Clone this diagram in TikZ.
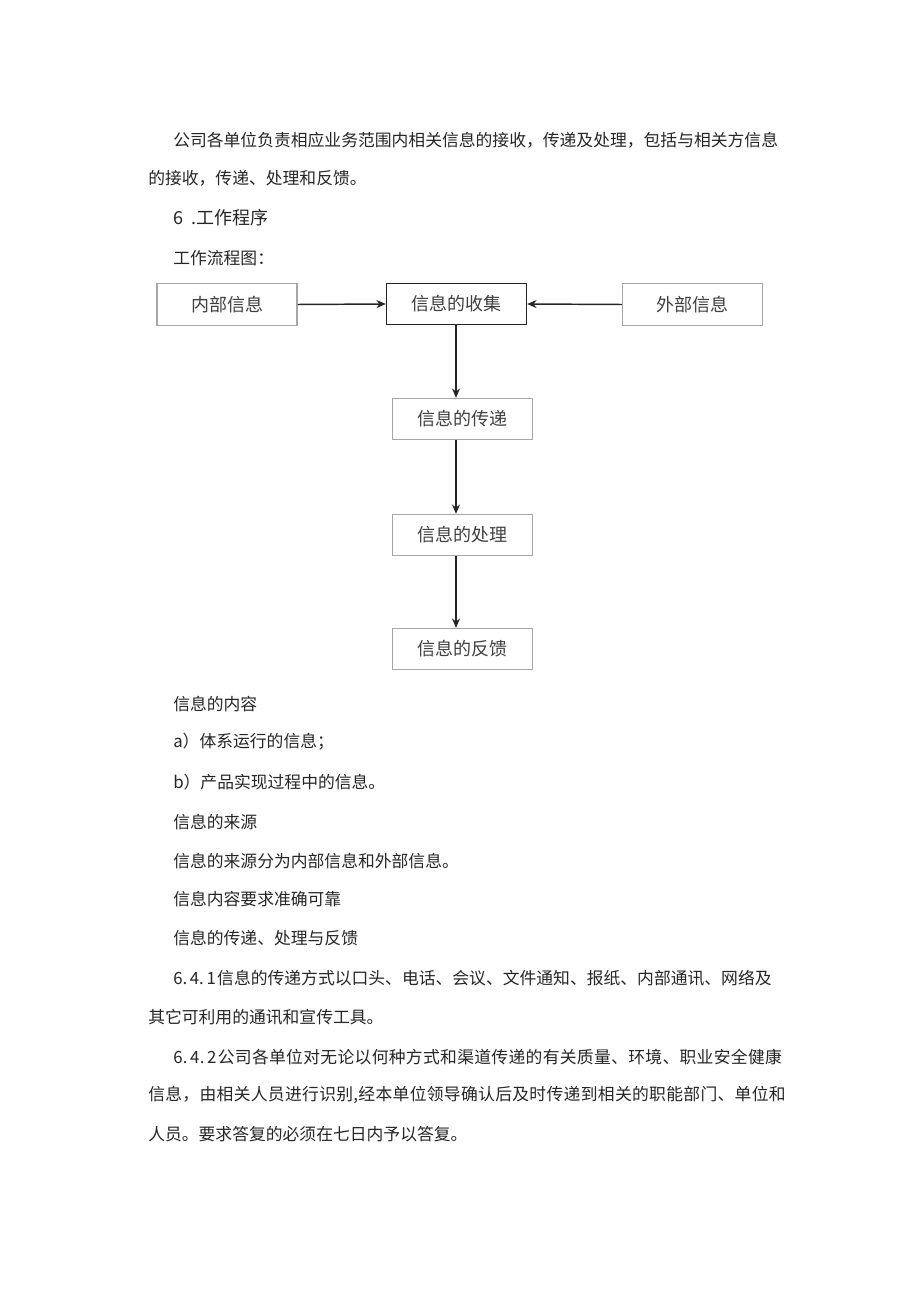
\documentclass[tikz,border=0pt]{standalone}
\usepackage{fontspec}
\setmainfont{Noto Sans CJK SC}
\newfontfamily\widecjk[LetterSpace=1.8]{Noto Sans CJK SC}
\usetikzlibrary{arrows.meta}
\begin{document}
\begin{tikzpicture}[x=0.75pt,y=-0.75pt,
  txt/.style={anchor=west,inner sep=0pt,font=\fontsize{12.6}{14}\selectfont,text=black!85},
  wtxt/.style={txt,font=\widecjk\fontsize{12.6}{14}\selectfont},
  flowbox/.style={draw=black!35,line width=0.8pt,minimum width=105pt,minimum height=31pt,inner sep=0pt,font=\fontsize{13.5}{15}\selectfont,text=black!75},
  mainbox/.style={flowbox,draw=black!85,line width=1.1pt},
  arr/.style={-{Stealth[length=7pt,width=6pt]},line width=1.1pt,black!85}]
\useasboundingbox (0,0) rectangle (920,1301);
\fill[white] (0,0) rectangle (920,1301);
% text above
\node[txt] (p1) at (173,140) {公司各单位负责相应业务范围内相关信息的接收，传递及处理，包括与相关方信息};
\node[txt] (p2) at (148,178) {的接收，传递、处理和反馈。};
\node[txt,font=\fontsize{13.5}{15}\selectfont] (h6) at (173,218) {6\hspace{6pt}.工作程序};
\node[txt] (fl) at (173,258) {工作流程图：};
% flowchart
\node[flowbox] (inner) at (227,304.5) {内部信息};
\node[mainbox] (collect) at (456.5,304) {信息的收集};
\node[flowbox] (outer) at (692.5,304.5) {外部信息};
\node[flowbox] (pass) at (462.5,419) {信息的传递};
\node[flowbox] (proc) at (462.5,535) {信息的处理};
\node[flowbox] (fb) at (462.5,649) {信息的反馈};
\draw[arr] (inner.east) -- (collect.west);
\draw[arr] (outer.west) -- (collect.east);
\draw[arr] (collect.south -| 456,0) -- (pass.north -| 456,0);
\draw[arr] (pass.south -| 456,0) -- (proc.north -| 456,0);
\draw[arr] (proc.south -| 456,0) -- (fb.north -| 456,0);
% text below
\node[txt] (c1) at (173,704) {信息的内容};
\node[txt] (c2) at (173,742) {a）体系运行的信息；};
\node[txt] (c3) at (173,782) {b）产品实现过程中的信息。};
\node[txt] (c4) at (173,822) {信息的来源};
\node[txt] (c5) at (173,861) {信息的来源分为内部信息和外部信息。};
\node[txt] (c6) at (173,899) {信息内容要求准确可靠};
\node[txt] (c7) at (173,938) {信息的传递、处理与反馈};
\node[txt] (c8) at (173,978) {6.\hspace{2pt}4.\hspace{2pt}1\hspace{1pt}信息的传递方式以口头、电话、会议、文件通知、报纸、内部通讯、网络及};
\node[txt] (c9) at (148,1017) {其它可利用的通讯和宣传工具。};
\node[wtxt] (c10) at (173,1057) {6.\hspace{2pt}4.\hspace{2pt}2\hspace{1pt}公司各单位对无论以何种方式和渠道传递的有关质量、环境、职业安全健康};
\node[wtxt] (c11) at (148,1095) {信息，由相关人员进行识别,经本单位领导确认后及时传递到相关的职能部门、单位和};
\node[txt] (c12) at (148,1134) {人员。要求答复的必须在七日内予以答复。};
\end{tikzpicture}
\end{document}
